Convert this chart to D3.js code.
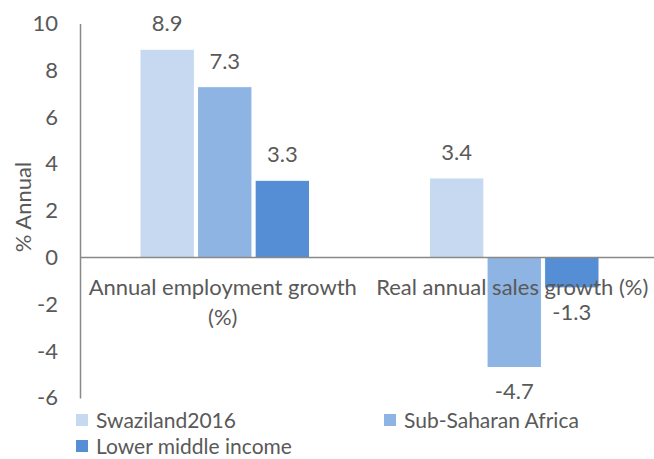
<!DOCTYPE html>
<html><head><meta charset="utf-8">
<script src="https://cdn.jsdelivr.net/npm/d3@7"></script>
<style>body{margin:0;background:#fff}svg{display:block}text{font-family:Lato,"Open Sans",sans-serif;fill:#595959}</style>
</head><body><svg id="c" width="654" height="459"></svg>
<script>
const categories = [["Annual employment growth", "(%)"], ["Real annual sales growth (%)"]];
const seriesNames = ["Swaziland2016", "Sub-Saharan Africa", "Lower middle income"];
const swaziland = [8.9, 3.4];
const subSaharan = [7.3, -4.7];
const lowerMiddle = [3.3, -1.3];
const yTicks = [-6, -4, -2, 0, 2, 4, 6, 8, 10];
const colors = ["#C6D9F1", "#8EB4E3", "#558ED5"];

const series = [swaziland, subSaharan, lowerMiddle];
const svg = d3.select("#c");
const fs = 22;
const x0 = d3.scaleBand().domain(d3.range(categories.length)).range([80, 659]).paddingInner(0).paddingOuter(0);
const x1 = d3.scaleBand().domain(d3.range(series.length)).range([60, x0.bandwidth() - 60]).paddingInner(0.055);
const y = d3.scaleLinear().domain([-6, 10]).range([397.9, 23.5]);

// y axis
const yAxis = d3.axisLeft(y).tickValues(yTicks).tickSize(0).tickPadding(22).tickFormat(d => String(d));
const ga = svg.append("g").attr("transform", "translate(80,0)").call(yAxis);
ga.select(".domain").attr("stroke", "#898989").attr("stroke-width", 1.5);
ga.selectAll("text").style("font-size", fs + "px").attr("fill", "#595959").style("font-family", "Lato");

// bars
categories.forEach((c, ci) => {
  series.forEach((s, si) => {
    const v = s[ci];
    const bx = x0(ci) + x1(si);
    svg.append("rect").attr("x", bx).attr("width", x1.bandwidth())
      .attr("y", y(Math.max(0, v))).attr("height", Math.abs(y(v) - y(0)))
      .attr("fill", colors[si]).attr("stroke", "#fff").attr("stroke-width", 1);
  });
});

// zero line
svg.append("line").attr("x1", 80).attr("x2", 654).attr("y1", y(0)).attr("y2", y(0))
  .attr("stroke", "#898989").attr("stroke-width", 1.5);

// category labels
categories.forEach((lines, ci) => {
  lines.forEach((t, li) => {
    svg.append("text").attr("x", x0(ci) + x0.bandwidth() / 2 - 2).attr("y", y(0) + 37.5 + li * 30)
      .attr("text-anchor", "middle").style("font-size", fs + "px").text(t);
  });
});

// data labels
categories.forEach((c, ci) => {
  series.forEach((s, si) => {
    const v = s[ci];
    const bx = x0(ci) + x1(si);
    const ly = v >= 0 ? y(v) - 18 : y(v) + 32;
    svg.append("text").attr("x", bx + x1.bandwidth() / 2).attr("y", ly)
      .attr("text-anchor", "middle").style("font-size", fs + "px").text(v.toFixed(1));
  });
});

// axis title
svg.append("text").attr("transform", `translate(31,${207}) rotate(-90)`)
  .attr("text-anchor", "middle").style("font-size", fs + "px").text("% Annual");

// legend
const lfs = 21;
const legendPos = [[76, 420], [384, 420], [76, 446]];
seriesNames.forEach((n, i) => {
  const [lx, ly] = legendPos[i];
  svg.append("rect").attr("x", lx).attr("y", ly - 6).attr("width", 12).attr("height", 12).attr("fill", colors[i]);
  svg.append("text").attr("x", lx + 20).attr("y", ly + 7.5).style("font-size", lfs + "px").text(n);
});
</script></body></html>
